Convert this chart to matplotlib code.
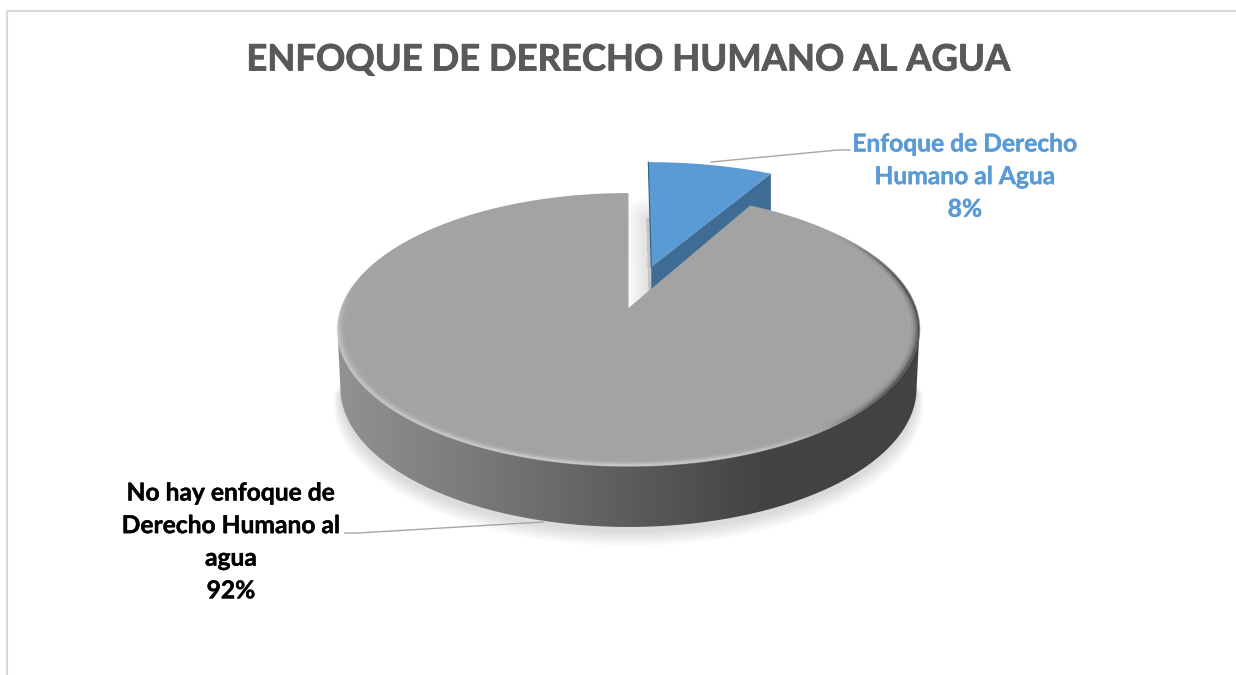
import numpy as np
import matplotlib
matplotlib.use("Agg")
import matplotlib.pyplot as plt
import matplotlib.patheffects as pe
from matplotlib.patches import Polygon
from matplotlib.collections import LineCollection
from matplotlib.colors import LinearSegmentedColormap

title = "ENFOQUE DE DERECHO HUMANO AL AGUA"
values = [8, 92]
labels = ["Enfoque de Derecho\nHumano al Agua\n8%", "No hay enfoque de\nDerecho Humano al\nagua\n92%"]
colors = ["#5b9bd5", "#a3a3a3"]
side_blue = "#3e6c94"
label_colors = ["#5b9bd5", "#000000"]

plt.rcParams['font.family'] = ['Lato', 'DejaVu Sans']
fig = plt.figure(figsize=(12.36, 6.75), dpi=100, facecolor="white")
ax = fig.add_axes([0, 0, 1, 1])
ax.set_xlim(0, 1236); ax.set_ylim(675, 0); ax.axis("off")

CX, K = 628.5, 0.1576
RX, RY, Y0 = 287.4, 133.1, 308.0
RXB, RYB, Y0B = 284.5, 135.6, 366.0
EXPLODE = 0.335
DEPTH_B = 50
BLUE_WIDEN = 1.05

def proj(u, v, rx=RX, ry=RY, y0=Y0):
    w = 1 + K * v
    return CX + rx * u / w, y0 - ry * v / w

def wedge(a0, a1, off=0.0, widen=1.0, n=200):
    th = np.radians(np.linspace(a0, a1, n))
    mid = np.radians((a0 + a1) / 2)
    du, dv = off * np.sin(mid), off * np.cos(mid)
    u = np.r_[du, du + widen * np.sin(th)]
    v = np.r_[dv, dv + np.cos(th)]
    return np.c_[proj(u, v)]

total = sum(values)
blue_end = 360 * values[0] / total

# ground shadow of the disc
th = np.radians(np.linspace(95, 265, 300))
for i in range(12):
    g = 1 + 0.0022 * i
    x, y = proj(np.sin(th) * g, np.cos(th) * g, RXB, RYB, Y0B + 5 + i * 0.9)
    ax.add_patch(Polygon(np.c_[x, y], closed=True, fc="#000000", ec="none", alpha=0.011, zorder=1))

# soft shadow of the exploded slice on the wall behind
blue_top = wedge(0, blue_end, EXPLODE, BLUE_WIDEN)
shifted = blue_top + np.array([-2, 56])
for lw in range(2, 32, 2):
    ax.add_patch(Polygon(shifted, closed=True, fc="#000000", ec="#000000", lw=lw,
                         alpha=0.009, zorder=1.5, joinstyle="round"))

# exploded slice: cut face, then top
apex = blue_top[0]
corner = blue_top[-1]
ax.add_patch(Polygon([apex, corner, corner + [0, DEPTH_B], apex + [0, DEPTH_B]],
                     closed=True, fc=side_blue, ec="none", zorder=2))
ax.add_patch(Polygon(blue_top, closed=True, fc=colors[0], ec="none", zorder=3))
ax.plot(blue_top[:2, 0], blue_top[:2, 1], color="#2f5f86", lw=0.8, zorder=3.1)

# curved wall of the big slice with horizontal shading
th = np.radians(np.linspace(99, 261, 400))
tx, ty = proj(np.sin(th), np.cos(th))
bx, by = proj(np.sin(th), np.cos(th), RXB, RYB, Y0B)
side = Polygon(np.r_[np.c_[tx, ty], np.c_[bx, by][::-1]], closed=True, fc="none", ec="none", zorder=4)
ax.add_patch(side)
cmap = LinearSegmentedColormap.from_list("side", [(0, "#929292"), (0.25, "#787878"), (0.5, "#5c5c5c"),
                                                  (0.72, "#444444"), (1, "#424242")])
grad = np.linspace(0, 1, 512).reshape(1, -1)
im = ax.imshow(grad, extent=[338, 920, 528, 320], cmap=cmap, aspect="auto", zorder=4)
im.set_clip_path(side)
ax.set_xlim(0, 1236); ax.set_ylim(675, 0)

# big slice top
gray_top = wedge(blue_end, 360)
ax.add_patch(Polygon(gray_top, closed=True, fc=colors[1], ec="none", zorder=5))

# soft bevel along the rim
deg = np.linspace(blue_end, 360, 900)

def smooth(a, lo, hi):
    t = np.clip((a - lo) / (hi - lo), 0, 1)
    return t * t * (3 - 2 * t)

def bump(a, a0, a1, a2, a3):
    return smooth(a, a0, a1) * (1 - smooth(a, a2, a3))

light_w = bump(deg, 130, 170, 255, 285)
dark_w = bump(deg, 50, 85, 115, 150)

def rim_colors(strength):
    rgb = np.ones((deg.size, 4))
    mix = light_w / np.maximum(light_w + dark_w, 1e-6)
    rgb[:, :3] = (0.82 * mix + 0.22 * (1 - mix))[:, None]
    rgb[:, 3] = strength * np.clip(light_w + dark_w, 0, 1)
    return rgb[:-1]

for scale, lw, st in [(0.999, 1.4, 0.55), (0.995, 1.6, 0.55), (0.990, 1.8, 0.32),
                      (0.984, 2.0, 0.16), (0.977, 2.2, 0.07)]:
    t = np.radians(deg)
    p = np.c_[proj(np.sin(t) * scale, np.cos(t) * scale)]
    seg = np.stack([p[:-1], p[1:]], axis=1)
    ax.add_collection(LineCollection(seg, colors=rim_colors(st), linewidths=lw, zorder=6))

# frame
ax.plot([7, 7, 1236], [675, 11, 11], color="#d9d9d9", lw=1.5, zorder=0)

# text
ax.text(627.5, 60, title, ha="center", va="center", fontsize=26.2, fontweight="bold", color="#595959",
        path_effects=[pe.withStroke(linewidth=0.6, foreground="#595959")])
for lab, col, xc, y_first in [(labels[0], label_colors[0], 965, 144), (labels[1], label_colors[1], 231, 493)]:
    for i, line in enumerate(lab.split("\n")):
        ax.text(xc, y_first + i * 32.6, line, ha="center", va="center", fontsize=17.7,
                fontweight="bold", color=col, zorder=8,
                path_effects=[pe.withStroke(linewidth=0.3, foreground=col)])

# leader lines
ax.plot([711, 838, 850], [162, 150, 150], color="#a6a6a6", lw=1.0, zorder=7)
ax.plot([543, 358, 345], [522, 533, 533], color="#a6a6a6", lw=1.0, zorder=7)

fig.savefig("out.png", dpi=100)
